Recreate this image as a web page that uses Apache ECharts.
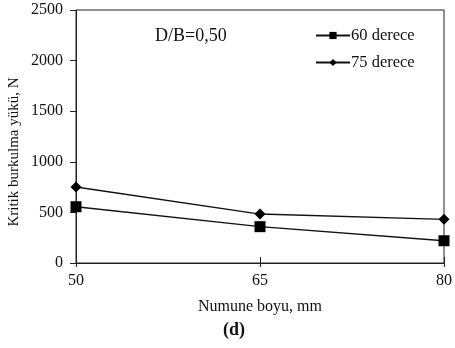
<!DOCTYPE html>
<html>
<head>
<meta charset="utf-8">
<script src="https://cdn.jsdelivr.net/npm/echarts@6/dist/echarts.min.js"></script>
<style>html,body{margin:0;padding:0;background:#fff}#c{width:455px;height:348px}</style>
</head>
<body>
<div id="c"></div>
<script>
const categories = ['50', '65', '80'];
const yTicks = [0, 500, 1000, 1500, 2000, 2500];
const deg60 = [556, 359, 220];
const deg75 = [751, 484, 432];
const seriesNames = ['60 derece', '75 derece'];

const FONT = '"Liberation Serif", "Times New Roman", serif';
const chart = echarts.init(document.getElementById('c'), null, {renderer: 'canvas'});
chart.setOption({
  animation: false,
  backgroundColor: '#fff',
  grid: {left: 76, right: 6, top: 10, bottom: 85, show: true, borderColor: '#222', borderWidth: 1},
  legend: {
    orient: 'vertical', left: 315, top: 27, padding: 0, itemWidth: 34, itemHeight: 9, itemGap: 10,
    data: seriesNames,
    textStyle: {fontFamily: FONT, fontSize: 16.5, color: '#111', padding: [0,0,0,-4]}
  },
  xAxis: [{
    type: 'category', data: categories, boundaryGap: false,
    axisLine: {lineStyle: {color: '#222', width: 1}},
    axisTick: {show: true, inside: false, length: 4, lineStyle: {color: '#222'}},
    axisLabel: {fontFamily: FONT, fontSize: 16, color: '#111', margin: 10},
    splitLine: {show: false},
    name: 'Numune boyu, mm', nameLocation: 'middle', nameGap: 36,
    nameTextStyle: {fontFamily: FONT, fontSize: 16, color: '#111'}
  }, {
    type: 'category', data: categories, boundaryGap: false, position: 'bottom',
    axisLine: {show: false},
    axisTick: {show: true, inside: true, length: 6, lineStyle: {color: '#222'}},
    axisLabel: {show: false}, splitLine: {show: false}
  }],
  yAxis: {
    type: 'value', min: yTicks[0], max: yTicks[yTicks.length-1], interval: 500,
    axisLine: {show: true, lineStyle: {color: '#222', width: 1}},
    axisTick: {show: true, inside: false, length: 6, lineStyle: {color: '#222'}},
    axisLabel: {fontFamily: FONT, fontSize: 16, color: '#111', margin: 13, formatter: v => String(v)},
    splitLine: {show: false}
  },
  graphic: [
    {type: 'text', left: 155, top: 27, style: {text: 'D/B=0,50', font: '18px ' + FONT, fill: '#111'}},
    {type: 'text', x: 14, y: 152, rotation: Math.PI/2, style: {text: 'Kritik burkulma yükü, N', font: '15px ' + FONT, fill: '#111', textAlign: 'center', textVerticalAlign: 'middle'}},
    {type: 'text', left: 223, top: 321, style: {text: '(d)', font: 'bold 18px ' + FONT, fill: '#111'}}
  ],
  series: [
    {name: seriesNames[0], type: 'line', data: deg60, symbol: 'rect', symbolSize: 11,
     lineStyle: {color: '#111', width: 1.3}, itemStyle: {color: '#000'}},
    {name: seriesNames[1], type: 'line', data: deg75, symbol: 'diamond', symbolSize: 11,
     lineStyle: {color: '#111', width: 1.3}, itemStyle: {color: '#000'}}
  ]
});
</script>
</body>
</html>
